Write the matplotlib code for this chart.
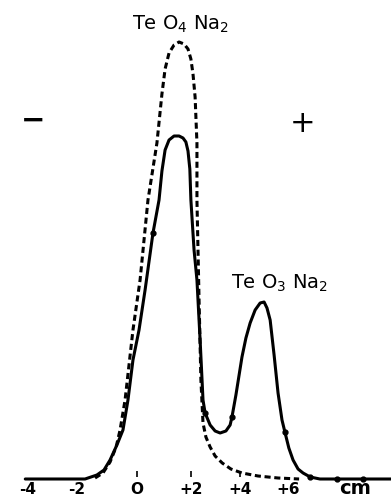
"""Electrophoresis profile of TeO4Na2 / TeO3Na2 (re-drawn)."""

import matplotlib
matplotlib.use("Agg")
import matplotlib.pyplot as plt

# Positions in cm, heights in arbitrary units (baseline = 0)
solid_x = [-4.13, -2.81, -1.86, -1.41, -1.14, -0.91, -0.65, -0.42, -0.23, -0.04,
           0.19, 0.42, 0.72, 0.95, 1.06, 1.18, 1.33, 1.52, 1.71, 1.86, 1.97, 2.05,
           2.12, 2.16, 2.28, 2.39, 2.51, 2.62, 2.70, 2.89, 3.08, 3.27, 3.49, 3.65,
           3.72, 3.87, 4.10, 4.25, 4.41, 4.60, 4.79, 4.94, 5.05, 5.17, 5.32, 5.47,
           5.62, 5.73, 5.88, 6.04, 6.23, 6.42, 6.69, 7.06, 9.76]
solid_y = [0, 0, 0, 4, 9, 19, 34, 49, 79, 119,
           149, 189, 246, 279, 308, 329, 339, 343, 343, 341, 337, 328,
           310, 279, 229, 199, 139, 79, 66, 54, 48, 46, 48, 54,
           62, 84, 122, 141, 156, 169, 176, 177, 171, 159, 124, 86,
           59, 47, 31, 19, 10, 6, 2, 0, 0]

dashed_x = [-1.48, -1.18, -0.91, -0.68, -0.53, -0.34, -0.04, 0.23, 0.53, 0.87,
            1.06, 1.18, 1.33, 1.52, 1.71, 1.90, 2.05, 2.16, 2.24, 2.32, 2.39,
            2.39, 2.43, 2.47, 2.54, 2.62, 2.73, 2.89, 3.08, 3.35, 3.68, 4.10,
            4.71, 5.47, 6.27]
dashed_y = [1, 6, 17, 32, 49, 79, 149, 199, 279, 336,
            385, 410, 426, 434, 437, 435, 430, 420, 405, 382, 336,
            279, 229, 179, 99, 56, 42, 32, 23, 16, 10, 6,
            3, 1, 0]

# data markers that are visible on the solid trace
marker_x = [0.72, 2.70, 3.72, 5.73, 6.69, 7.71, 8.70]
marker_y = [246, 66, 62, 47, 2, 0, 0]

# hand-lettered scale, positions
tick_pos = [-4.03, -2.16, 0.11, 2.16, 4.03, 5.85]
tick_labels = ["-4", "-2", "O", "+2", "+4", "+6"]
unit_pos = 8.39


def draw_profile(out_path: str = "out.png"):
    """
        Draw both traces, the labels and the cm scale.
    """
    fig = plt.figure(figsize=(3.91, 4.98), dpi=100)
    ax = fig.add_axes([0, 0, 1, 1])
    ax.set_xlim(-5.09, 9.76)
    ax.set_ylim(-19, 479)
    ax.axis("off")

    ax.plot(solid_x, solid_y, color="black", lw=2.2,
            solid_joinstyle="round", solid_capstyle="round")
    ax.plot(dashed_x, dashed_y, color="black", lw=2.2,
            linestyle=(0, (2.0, 1.2)))
    ax.plot(marker_x, marker_y, "o", color="black", ms=3.5)

    # scale under the baseline
    for pos, lab in zip(tick_pos, tick_labels):
        ax.text(pos, -10, lab, ha="center", va="center", fontsize=11,
                fontweight="bold", family="DejaVu Sans")
    ax.text(unit_pos, -9, "cm", ha="center", va="center", fontsize=14,
            fontweight="bold", family="DejaVu Sans")
    ax.vlines([0.11, 2.16, 4.03], 2, 8, color="black", lw=1.2)

    ax.text(1.75, 455, r"Te O$_4$ Na$_2$", ha="center", va="center",
            fontsize=14, family="DejaVu Sans")
    ax.text(5.51, 196, r"Te O$_3$ Na$_2$", ha="center", va="center",
            fontsize=14, family="DejaVu Sans")

    ax.text(-3.85, 358, "\u2212", ha="center", va="center", fontsize=21,
            fontweight="bold")
    ax.text(6.42, 356, "+", ha="center", va="center", fontsize=22)

    fig.savefig(out_path, dpi=100)


if __name__ == '__main__':
    draw_profile()
